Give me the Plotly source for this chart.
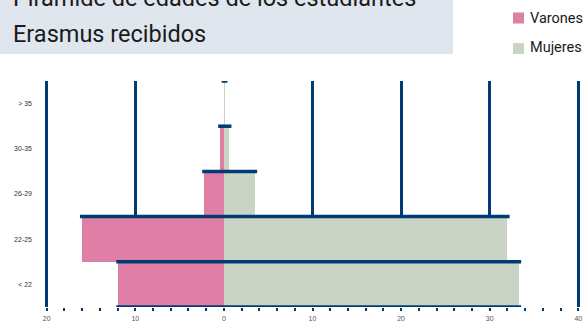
import plotly.graph_objects as go

# ---- data ----
categories = ["< 22", "22-25", "26-29", "30-35", "> 35"]
varones = [11.9, 16.0, 2.2, 0.4, 0.0]
mujeres = [33.3, 32.0, 3.5, 0.6, 0.15]
x_tick_values = [-20, -10, 0, 10, 20, 30, 40]
x_tick_labels = ["20", "10", "0", "10", "20", "30", "40"]
title_lines = ["Pirámide de edades de los estudiantes", "Erasmus recibidos"]
series_names = ["Varones", "Mujeres"]

# ---- style ----
PINK = "#e07fa5"
GREEN = "#c9d4c4"
NAVY = "#003b73"
BOX = "#dfe6ee"
SANS = "Liberation Sans, Arial, sans-serif"
TITLE_FONT = "Roboto, sans-serif"

W, H = 583, 324
ML, MR, MT, MB = 43, 1, 81, 17
PW, PH = W - ML - MR, H - MT - MB
XR = [-20.42, 40.42]


def px2paper_x(px):
    return (px - ML) / PW


def px2paper_y(py):
    return (H - MB - py) / PH


pos = list(range(len(categories)))
grid_values = [v for v in x_tick_values if v != 0]

fig = go.Figure()
fig.add_trace(go.Bar(
    y=pos, x=[-v for v in varones], orientation="h", width=1,
    marker=dict(color=PINK, line=dict(width=0)), name=series_names[0],
    showlegend=False, hoverinfo="skip"))
fig.add_trace(go.Bar(
    y=pos, x=mujeres, orientation="h", width=1,
    marker=dict(color=GREEN, line=dict(width=0)), name=series_names[1],
    showlegend=False, hoverinfo="skip"))

# dark top edge of every bar row, plus the bottom edge of the lowest row
pad = 0.25
lx, ly = [], []
for i, (v, m) in enumerate(zip(varones, mujeres)):
    lx += [-v - pad, m + pad, None]
    ly += [i + 0.5, i + 0.5, None]
lx += [-varones[0] - pad, mujeres[0] + pad]
ly += [-0.5, -0.5]
fig.add_trace(go.Scatter(x=lx, y=ly, mode="lines",
                         line=dict(color=NAVY, width=3.5),
                         showlegend=False, hoverinfo="skip"))

# invisible trace that carries the labelled x axis
fig.add_trace(go.Scatter(x=[None], y=[None], xaxis="x2", yaxis="y",
                         showlegend=False, hoverinfo="skip"))

fig.update_layout(
    width=W, height=H,
    margin=dict(l=ML, r=MR, t=MT, b=MB, pad=0, autoexpand=False),
    paper_bgcolor="white", plot_bgcolor="white",
    barmode="relative", bargap=0,
    showlegend=False,
    xaxis=dict(range=XR, tickmode="array", tickvals=grid_values,
               showticklabels=False, showgrid=True, gridcolor=NAVY,
               gridwidth=3, zeroline=False, showline=False, automargin=False,
               ticks="outside", ticklen=3, tickwidth=2, tickcolor=NAVY,
               minor=dict(tickmode="linear", tick0=0, dtick=2,
                          ticks="outside", ticklen=3, tickwidth=2,
                          tickcolor=NAVY, showgrid=False)),
    xaxis2=dict(range=XR, overlaying="x", anchor="y", side="bottom",
                tickmode="array", tickvals=x_tick_values,
                ticktext=x_tick_labels, showgrid=False, zeroline=False,
                showline=False, ticks="", automargin=False,
                tickfont=dict(family=SANS, size=7, color="#555555"),
                ticklabelstandoff=6),
    yaxis=dict(range=[-0.5, 4.5], tickmode="array", tickvals=pos,
               ticktext=categories, showgrid=False, zeroline=False,
               showline=False, ticks="", automargin=False,
               tickfont=dict(family=SANS, size=7, color="#333333"),
               ticklabelstandoff=10),
)

# title box and title
fig.add_shape(type="rect", xref="paper", yref="paper",
              x0=px2paper_x(-2), x1=px2paper_x(453),
              y0=px2paper_y(54), y1=px2paper_y(-2),
              fillcolor=BOX, line=dict(width=0), layer="below")
for line, cy in zip(title_lines, [-1.6, 34.4]):
    fig.add_annotation(xref="paper", yref="paper", x=px2paper_x(11),
                       y=px2paper_y(cy), xanchor="left", yanchor="middle",
                       align="left", text=line, showarrow=False,
                       font=dict(family=TITLE_FONT, size=23.5, color="#1a1a1a"))

# legend
for name, col, sq_y, txt_y in [(series_names[0], PINK, 18, 18.3),
                               (series_names[1], GREEN, 48.5, 47.8)]:
    fig.add_shape(type="rect", xref="paper", yref="paper",
                  x0=px2paper_x(513), x1=px2paper_x(524),
                  y0=px2paper_y(sq_y + 5.5), y1=px2paper_y(sq_y - 5.5),
                  fillcolor=col, line=dict(width=0))
    fig.add_annotation(xref="paper", yref="paper", x=px2paper_x(528),
                       y=px2paper_y(txt_y), xanchor="left", yanchor="middle",
                       align="left", text=name, showarrow=False,
                       font=dict(family=TITLE_FONT, size=14.5, color="#1a1a1a"))

post = "document.body.style.margin = '0';"
fig.write_html("out.html", post_script=post,
               config={"displayModeBar": False, "staticPlot": True})
